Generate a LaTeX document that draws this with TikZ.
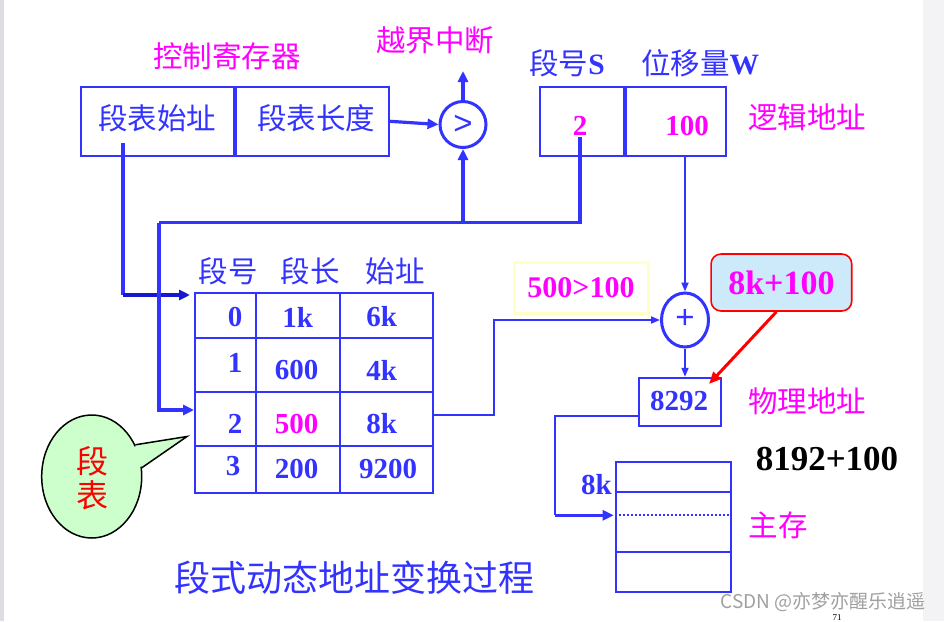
\documentclass[tikz,border=0pt]{standalone}
\usepackage{fontspec}
\setmainfont{Liberation Serif}
\newfontfamily\cjk{Noto Sans CJK SC}
\newfontfamily\opfont{Liberation Sans}
\usetikzlibrary{arrows.meta,shapes.geometric,calc}

\definecolor{lineblue}{RGB}{51,51,255}
\definecolor{deepblue}{RGB}{24,24,204}
\definecolor{mag}{RGB}{255,0,255}
\definecolor{tipfill}{RGB}{204,234,250}
\definecolor{bubblefill}{RGB}{204,255,204}
\definecolor{paleyellow}{RGB}{255,255,200}
\definecolor{edgegray}{RGB}{222,222,226}
\definecolor{sidegray}{RGB}{243,243,245}
\definecolor{wmgray}{RGB}{160,160,160}

\newcommand\latinbf[1]{{\rmfamily\bfseries #1}}

\tikzset{
  cell/.style={draw=lineblue, line width=2pt, inner sep=0pt, rectangle},
  cjktext/.style={font=\cjk\fontsize{29.5}{29.5}\selectfont, inner sep=1pt},
  bluecjk/.style={cjktext, text=lineblue},
  magcjk/.style={cjktext, text=mag},
  numtext/.style={font=\bfseries\fontsize{29}{29}\selectfont, text=lineblue, inner sep=1pt},
  magnum/.style={numtext, text=mag},
  optext/.style={font=\opfont\fontsize{33}{33}\selectfont, text=lineblue},
  fatline/.style={draw=lineblue, line width=3.2pt},
  fatarrow/.style={fatline, -{Triangle[length=11pt,width=10pt]}},
  deeparrow/.style={draw=deepblue, line width=3.2pt, -{Triangle[length=11pt,width=10pt]}},
  slimline/.style={draw=lineblue, line width=1.8pt},
  slimarrow/.style={slimline, -{Triangle[length=9pt,width=7pt]}},
  redarrow/.style={draw=red, line width=3pt, -{Triangle[length=12pt,width=10pt]}},
}

\begin{document}
\begin{tikzpicture}[x=1pt,y=-1pt]
\useasboundingbox (0,0) rectangle (944,621);
\fill[white] (0,0) rectangle (944,621);
\fill[edgegray] (0,0) rectangle (4,621);
\fill[sidegray] (923,0) rectangle (944,621);

% ---- control register ----
\node[magcjk] (ctrllabel) at (227,56) {控制寄存器};
\node[cell, minimum width=153, minimum height=69] (base) at (157.5,121.3) {};
\node[cell, minimum width=153, minimum height=69, anchor=west] (len) at (base.east) {};
\node[bluecjk] (basetext) at (157,118) {段表始址};
\node[bluecjk] (lentext) at (316,118) {段表长度};

% ---- comparator ----
\node[circle, draw=lineblue, line width=3pt, minimum size=46, inner sep=0pt] (cmp) at (463,124.5) {};
\node[optext] (cmpsign) at (463,124.5) {>};
\coordinate (irq) at (463,71);
\node[magcjk] (irqlabel) at (435,40) {越界中断};
\draw[fatarrow] (len.east) -- (cmp.west);
\draw[fatarrow] (cmp.north) -- (irq);

% ---- logical address ----
\node[cell, minimum width=84, minimum height=69] (segno) at (581.7,121.3) {};
\node[cell, minimum width=100, minimum height=69, anchor=west] (offset) at (segno.east) {};
\node[magnum] (segval) at (580,126) {2};
\node[magnum] (offval) at (687,126) {100};
\node[bluecjk] (segnolabel) at (567,63) {段号\latinbf{S}};
\node[bluecjk] (offlabel) at (700,63) {位移量\latinbf{W}};
\node[magcjk] (loglabel) at (807,117) {逻辑地址};

% ---- segment table ----
\node[cell, minimum width=237.7, minimum height=199.4] (segtab) at (313.85,393) {};
\foreach \dx in {62,146}
  \draw[draw=lineblue, line width=2pt] ($(segtab.north west)+(\dx,0)$) -- ($(segtab.south west)+(\dx,0)$);
\foreach \dy in {45.4,99.7,153.7}
  \draw[draw=lineblue, line width=2pt] ($(segtab.north west)+(0,\dy)$) -- ($(segtab.north east)+(0,\dy)$);
\node[bluecjk] (hno) at (228,271) {段号};
\node[bluecjk] (hlen) at (310,271) {段长};
\node[bluecjk] (hbase) at (395,271) {始址};
\node[numtext] (r0a) at (235,317) {0};
\node[numtext] (r0b) at (297.7,317) {1k};
\node[numtext] (r0c) at (381.7,317) {6k};
\node[numtext] (r1a) at (235,363) {1};
\node[numtext] (r1b) at (296.7,370) {600};
\node[numtext] (r1c) at (381.7,370) {4k};
\node[numtext] (r2a) at (235,424) {2};
\node[magnum]  (r2b) at (296.7,424) {500};
\node[numtext] (r2c) at (381.7,424) {8k};
\node[numtext] (r3a) at (233,466) {3};
\node[numtext] (r3b) at (296.7,469) {200};
\node[numtext] (r3c) at (388,469) {9200};

% ---- paths into the table ----
\coordinate (basetap) at (123,143);
\coordinate (entry0) at (195,295);
\coordinate (busleft) at (159,222.5);
\coordinate (entry2) at (195,410);
\draw[fatline] (basetap) -- (basetap |- entry0);
\draw[deeparrow, shorten >=5pt] (basetap |- entry0) -- (entry0);
\draw[fatline] (segval.south) |- (busleft);
\draw[fatarrow, shorten >=1pt] (busleft) |- (entry2);
\draw[fatarrow] (cmp.south |- busleft) -- (cmp.south);

% ---- adder ----
\node[ellipse, draw=lineblue, line width=3pt, minimum width=47, minimum height=54, inner sep=0pt] (adder) at (685,320) {};
\node[optext] (addsign) at (685,319) {+};
\node[draw=paleyellow, line width=3pt, minimum width=134, minimum height=51, inner sep=0pt,
      font=\bfseries\fontsize{30}{30}\selectfont, text=mag] (check) at (581,287.5) {500>100};
\coordinate (rowtap) at (493.7,415);
\draw[slimarrow] (segtab.east |- rowtap) -- (rowtap) |- (adder.west);
\draw[slimarrow] (adder.north |- offset.south) -- (adder.north);

% ---- physical address ----
\node[cell, minimum width=82.3, minimum height=48.3] (phys) at (679.9,401.9) {};
\node[numtext] (physval) at (679,400.7) {8292};
\node[magcjk] (physlabel) at (807,401) {物理地址};
\draw[slimarrow] (adder.south) -- (adder.south |- phys.north);

\node[draw=red, line width=1.6pt, fill=tipfill, rounded corners=10pt, minimum width=140.7, minimum height=57,
      inner sep=0pt, font=\bfseries\fontsize{34}{34}\selectfont, text=mag] (hint) at (781.4,282.5) {8k+100};
\coordinate (hinttip) at (709,384);
\draw[redarrow] ($(hint.south)+(-5,0)$) -- (hinttip);

\node[font=\bfseries\fontsize{35}{35}\selectfont, text=black, inner sep=0pt] (sum) at (827,459) {8192+100};

% ---- main memory ----
\node[cell, minimum width=115.3, minimum height=130] (mem) at (673.35,526.7) {};
\draw[draw=lineblue, line width=2pt] ($(mem.north west)+(0,31)$) -- ($(mem.north east)+(0,31)$);
\draw[draw=lineblue, line width=2pt] ($(mem.north west)+(0,91.6)$) -- ($(mem.north east)+(0,91.6)$);
\coordinate (memrow) at (555,515.3);
\draw[draw=lineblue, line width=2pt, dotted] (mem.west |- memrow) -- (mem.east |- memrow);
\node[numtext] (memtag) at (596.5,485) {8k};
\node[magcjk] (memlabel) at (778,525) {主存};
\draw[slimline] (phys.west |- 0,415.7) -| (memrow);
\draw[fatarrow, shorten >=1pt] (memrow) -- (mem.west |- memrow);

% ---- caption ----
\node[font=\cjk\fontsize{36}{36}\selectfont, text=lineblue] (caption) at (354,578) {段式动态地址变换过程};

% ---- callout ----
\node[ellipse, draw=black, line width=1.5pt, fill=bubblefill, minimum width=100, minimum height=123, inner sep=0pt] (bubble) at (91.7,476.5) {};
\coordinate (bubbletip) at (187,436.5);
\fill[bubblefill] ($(bubble.center)!0.93!(bubble.36)$) -- (bubbletip) -- ($(bubble.center)!0.93!(bubble.10)$) -- cycle;
\fill[bubblefill] (bubble.36) -- (bubbletip) -- (bubble.10) -- cycle;
\draw[black, line width=1.5pt, line join=miter] (bubble.36) -- (bubbletip) -- (bubble.10);
\node[font=\cjk\fontsize{32}{32}\selectfont, text=red, align=center, inner sep=0pt] (bubbletext) at (92,478) {段\\[2pt]表};

% ---- footer ----
\node[font=\cjk\fontsize{19}{19}\selectfont, text=wmgray, inner sep=0pt] (wm) at (823,602) {CSDN @亦梦亦醒乐逍遥};
\node[font=\fontsize{9}{9}\selectfont, inner sep=0pt, anchor=south] (pageno) at (837,620.5) {71};
\end{tikzpicture}
\end{document}
